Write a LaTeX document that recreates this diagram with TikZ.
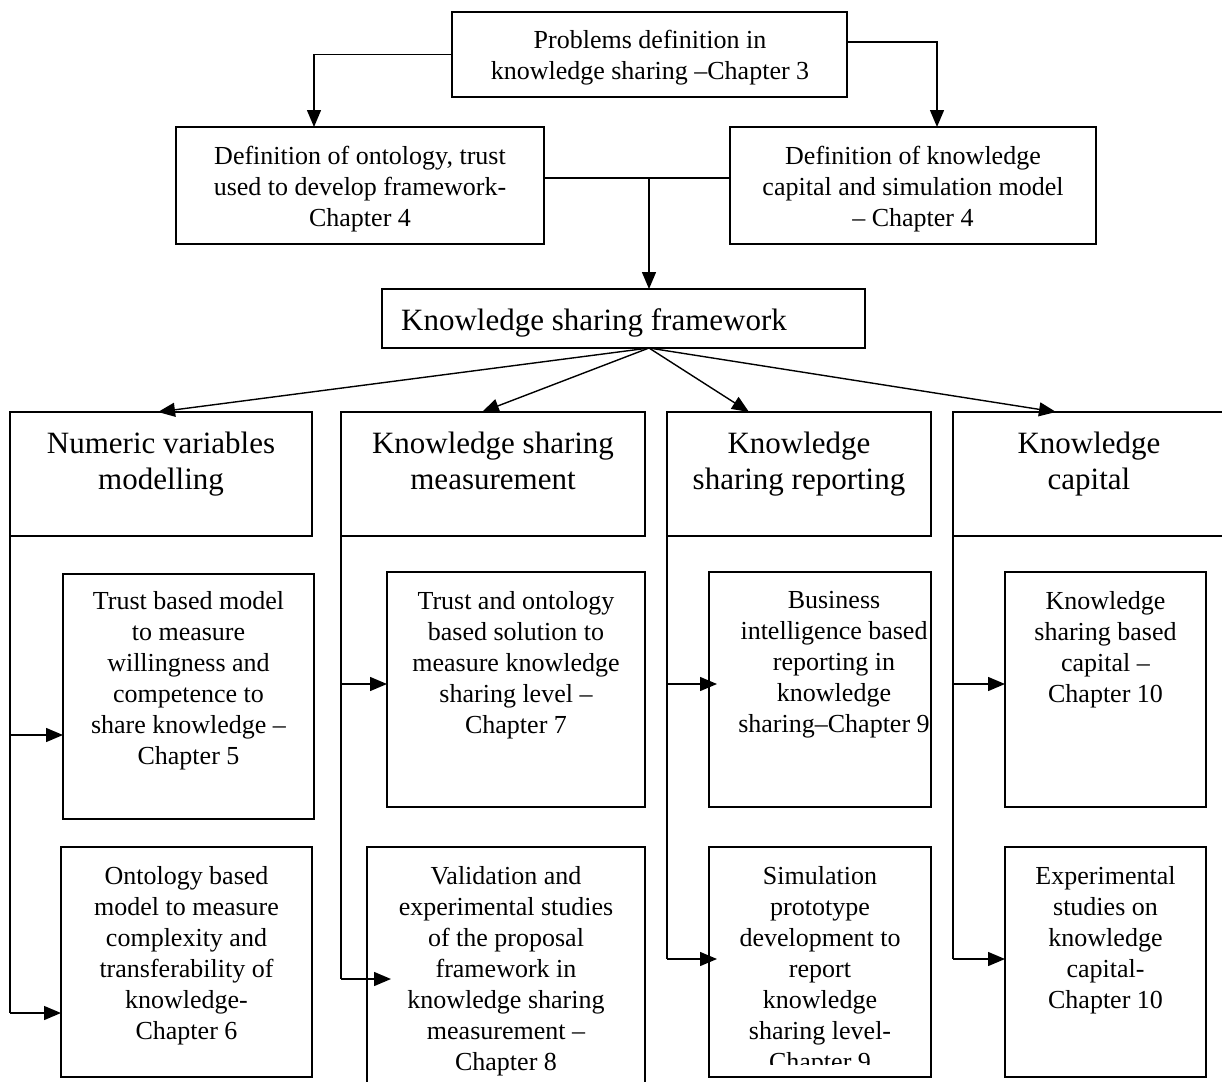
\documentclass[tikz,border=0pt]{standalone}
\usepackage{fontspec}
\setmainfont{Liberation Serif}
\usetikzlibrary{arrows.meta}
\begin{document}
\begin{tikzpicture}[x=1pt,y=-1pt,
  box/.style={draw, line width=1.4pt, inner sep=0pt, outer sep=0pt, anchor=north west},
  % texts are placed by the baseline of their first line
  small/.style={font=\fontsize{26}{31}\selectfont, align=center, anchor=north, inner sep=0pt,
    yshift=17pt, execute at begin node={\rule{0pt}{26pt}}},
  big/.style={font=\fontsize{31}{36}\selectfont, align=center, anchor=north, inner sep=0pt,
    yshift=21pt, execute at begin node={\rule{0pt}{31pt}}},
  arr/.style={line width=1.4pt, -{Triangle[length=17pt,width=14pt]}},
  link/.style={line width=1.4pt}]
\fill[white] (0,0) rectangle (1222,1081);
\useasboundingbox (0,0) rectangle (1222,1081);

% frames
\node[box, minimum width=395pt, minimum height=85pt]  (top)  at (452,12)  {};
\node[box, minimum width=368pt, minimum height=117pt] (ont)  at (176,127) {};
\node[box, minimum width=366pt, minimum height=117pt] (kcap) at (730,127) {};
\node[box, minimum width=483pt, minimum height=59pt]  (ksf)  at (382,289) {};
\node[box, minimum width=302pt, minimum height=124pt] (nvm)  at (10,412)  {};
\node[box, minimum width=304pt, minimum height=124pt] (ksm)  at (341,412) {};
\node[box, minimum width=264pt, minimum height=124pt] (ksr)  at (667,412) {};
\node[box, minimum width=272pt, minimum height=124pt] (kc)   at (953,412) {};
\node[box, minimum width=251pt, minimum height=245pt] (t1)   at (63,574)  {};
\node[box, minimum width=251pt, minimum height=230pt] (o1)   at (61,847)  {};
\node[box, minimum width=258pt, minimum height=235pt] (m1)   at (387,572) {};
\node[box, minimum width=278pt, minimum height=240pt] (m2)   at (367,847) {};
\node[box, minimum width=222pt, minimum height=235pt] (r1)   at (709,572) {};
\node[box, minimum width=222pt, minimum height=230pt] (r2)   at (709,847) {};
\node[box, minimum width=201pt, minimum height=235pt] (c1)   at (1005,572) {};
\node[box, minimum width=201pt, minimum height=230pt] (c2)   at (1005,847) {};

% texts
\node[small] (topt) at (650,47) {Problems definition in\\knowledge sharing –Chapter 3};
\node[small] (ontt) at (360,163) {Definition of ontology, trust\\used to develop framework-\\Chapter 4};
\node[small] (kcapt) at (913,163) {Definition of knowledge\\capital and simulation model\\– Chapter 4};
\node[font=\fontsize{31}{36}\selectfont, anchor=base west, inner sep=0pt] (ksft) at (401,330) {Knowledge sharing framework};
\node[big] (nvmt) at (161,453) {Numeric variables\\modelling};
\node[big] (ksmt) at (493,453) {Knowledge sharing\\measurement};
\node[big] (ksrt) at (799,453) {Knowledge\\sharing reporting};
\node[big] (kct)  at (1089,453) {Knowledge\\capital};
\node[small] (t1t) at (188.5,608) {Trust based model\\to measure\\willingness and\\competence to\\share knowledge –\\Chapter 5};
\node[small] (o1t) at (186.5,883) {Ontology based\\model to measure\\complexity and\\transferability of\\knowledge-\\Chapter 6};
\node[small] (m1t) at (516,608) {Trust and ontology\\based solution to\\measure knowledge\\sharing level –\\Chapter 7};
\node[small] (m2t) at (506,883) {Validation and\\experimental studies\\of the proposal\\framework in\\knowledge sharing\\measurement –\\Chapter 8};
\node[small] (r1t) at (834,608) {Business\\intelligence based\\reporting in\\knowledge\\sharing–Chapter 9};
\begin{scope}
  \clip (709,847) rectangle (931,1064);
  \node[small] (r2t) at (820,883) {Simulation\\prototype\\development to\\report\\knowledge\\sharing level-\\Chapter 9};
\end{scope}
\node[small] (c1t) at (1105.5,608) {Knowledge\\sharing based\\capital –\\Chapter 10};
\node[small] (c2t) at (1105.5,883) {Experimental\\studies on\\knowledge\\capital-\\Chapter 10};

% upper connectors
\draw[arr] (top.west) -| ([xshift=138pt]ont.north west);
\draw[arr] ([yshift=12.5pt]top.east) -| ([xshift=207pt]kcap.north west);
\draw[link] ([yshift=7.5pt]ont.east) -- ([yshift=7.5pt]kcap.west);
\coordinate (join) at (649,178);
\draw[arr] (join) -- (join |- ksf.north);

% fan out of the framework
\coordinate (fan) at (649,348);
\draw[arr] (fan) -- ([xshift=148pt]nvm.north west);
\draw[arr] (fan) -- ([xshift=141pt]ksm.north west);
\draw[arr] (fan) -- ([xshift=82pt]ksr.north west);
\draw[arr] (fan) -- ([xshift=103pt]kc.north west);

% column brackets
\coordinate (n1) at (10,735);
\coordinate (n2) at (10,1013);
\draw[link] (nvm.south west) -- (n2);
\draw[arr] (n1) -- (t1.west |- n1);
\draw[arr] (n2) -- (o1.west |- n2);

\coordinate (s1) at (341,684);
\coordinate (s2) at (341,979);
\draw[link] (ksm.south west) -- (s2);
\draw[arr] (s1) -- (m1.west |- s1);
\draw[arr, shorten >=-24pt] (s2) -- (m2.west |- s2);

\coordinate (r1a) at (667,684);
\coordinate (r2a) at (667,959);
\draw[link] (ksr.south west) -- (r2a);
\draw[arr, shorten >=-8pt] (r1a) -- (r1.west |- r1a);
\draw[arr, shorten >=-8pt] (r2a) -- (r2.west |- r2a);

\coordinate (c1a) at (953,684);
\coordinate (c2a) at (953,959);
\draw[link] (kc.south west) -- (c2a);
\draw[arr] (c1a) -- (c1.west |- c1a);
\draw[arr] (c2a) -- (c2.west |- c2a);
\end{tikzpicture}
\end{document}
